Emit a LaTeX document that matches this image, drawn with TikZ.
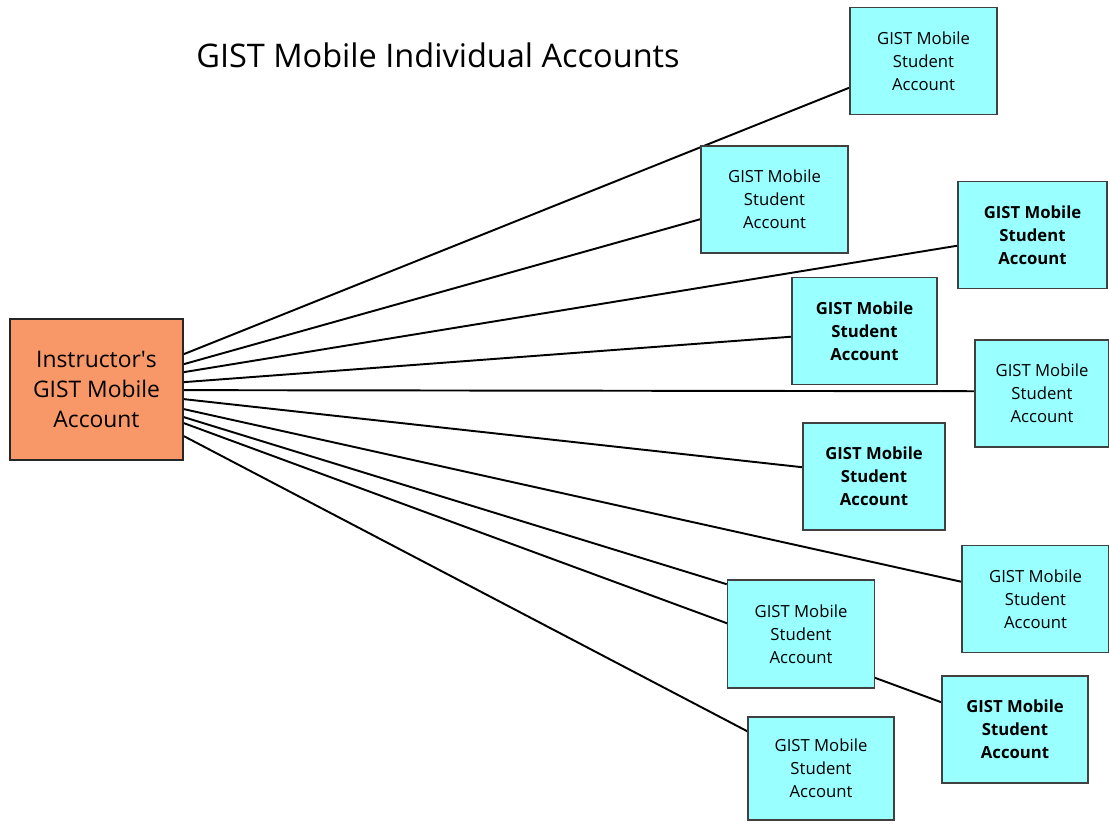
\documentclass[tikz,border=0pt]{standalone}
\usepackage{fontspec}
\setmainfont{Open Sans}
\usetikzlibrary{calc,backgrounds}
\definecolor{instrorange}{RGB}{248,152,104}
\definecolor{studcyan}{RGB}{153,255,255}
\tikzset{
	instrbox/.style={draw=black!85, line width=1pt, fill=instrorange, inner sep=0pt, align=center,
		minimum width=3.46cm, minimum height=2.82cm, font=\fontsize{13}{17}\selectfont},
	studbox/.style={draw=black!75, line width=0.9pt, fill=studcyan, inner sep=0pt, align=center,
		minimum width=2.94cm, minimum height=2.14cm, font=\fontsize{9.5}{13}\selectfont},
	boldbox/.style={studbox, font=\fontsize{9.5}{13}\selectfont\bfseries},
	link/.style={black, line width=1.1pt}
}

\begin{document}
\begin{tikzpicture}[x=0.02cm, y=-0.02cm]
		%%%%% START %%%%%
		\useasboundingbox (0, 0) rectangle (1109, 825);
		
		\node[anchor=base, font=\fontsize{18.5}{22}\selectfont] (title) at (438, 67) {GIST Mobile Individual Accounts};
		
		\node[instrbox] (instr) at (96.5, 389.5) {Instructor\textquotesingle s\\GIST Mobile\\Account};
		
		\node[studbox] (s1) at (923.5, 61) {GIST Mobile\\Student\\Account};
		\node[studbox] (s2) at (774.5, 199.5) {GIST Mobile\\Student\\Account};
		\node[boldbox, minimum width=2.98cm] (s3) at (1032.5, 235) {GIST Mobile\\Student\\Account};
		\node[boldbox, minimum width=2.9cm] (s4) at (864.5, 331) {GIST Mobile\\Student\\Account};
		\node[studbox, minimum width=2.68cm] (s5) at (1042, 393.5) {GIST Mobile\\Student\\Account};
		\node[boldbox, minimum width=2.84cm] (s6) at (874, 476.5) {GIST Mobile\\Student\\Account};
		\node[studbox] (s7) at (1035.5, 599) {GIST Mobile\\Student\\Account};
		\node[studbox, minimum height=2.16cm] (s8) at (801, 634) {GIST Mobile\\Student\\Account};
		\node[boldbox, minimum width=2.92cm] (s9) at (1015, 729.5) {GIST Mobile\\Student\\Account};
		\node[studbox, minimum width=2.92cm, minimum height=2.06cm] (s10) at (821, 768.5) {GIST Mobile\\Student\\Account};
		
		\begin{pgfonlayer}{background}
		\draw[link] ($(instr.north east)+(0, 36)$) -- ($(s1.north west)+(0, 81)$);
		\draw[link] ($(instr.north east)+(0, 46)$) -- ($(s2.north west)+(0, 74)$);
		\draw[link] ($(instr.north east)+(0, 54)$) -- ($(s3.north west)+(0, 65)$);
		\draw[link] ($(instr.north east)+(0, 64)$) -- ($(s4.north west)+(0, 60)$);
		\draw[link] ($(instr.north east)+(0, 72)$) -- ($(s5.north west)+(0, 52)$);
		\draw[link] ($(instr.north east)+(0, 81)$) -- ($(s6.north west)+(0, 45)$);
		\draw[link] ($(instr.north east)+(0, 91)$) -- ($(s7.north west)+(0, 37)$);
		\draw[link] ($(instr.north east)+(0, 99)$) -- ($(s8.north west)+(0, 5)$);
		\draw[link] ($(instr.north east)+(0, 105)$) -- ($(s9.north west)+(0, 27)$);
		\draw[link] ($(instr.north east)+(0, 118)$) -- ($(s10.north west)+(0, 15)$);
		\end{pgfonlayer}
		
		%%%%% END %%%%%
	\end{tikzpicture}
\end{document}
